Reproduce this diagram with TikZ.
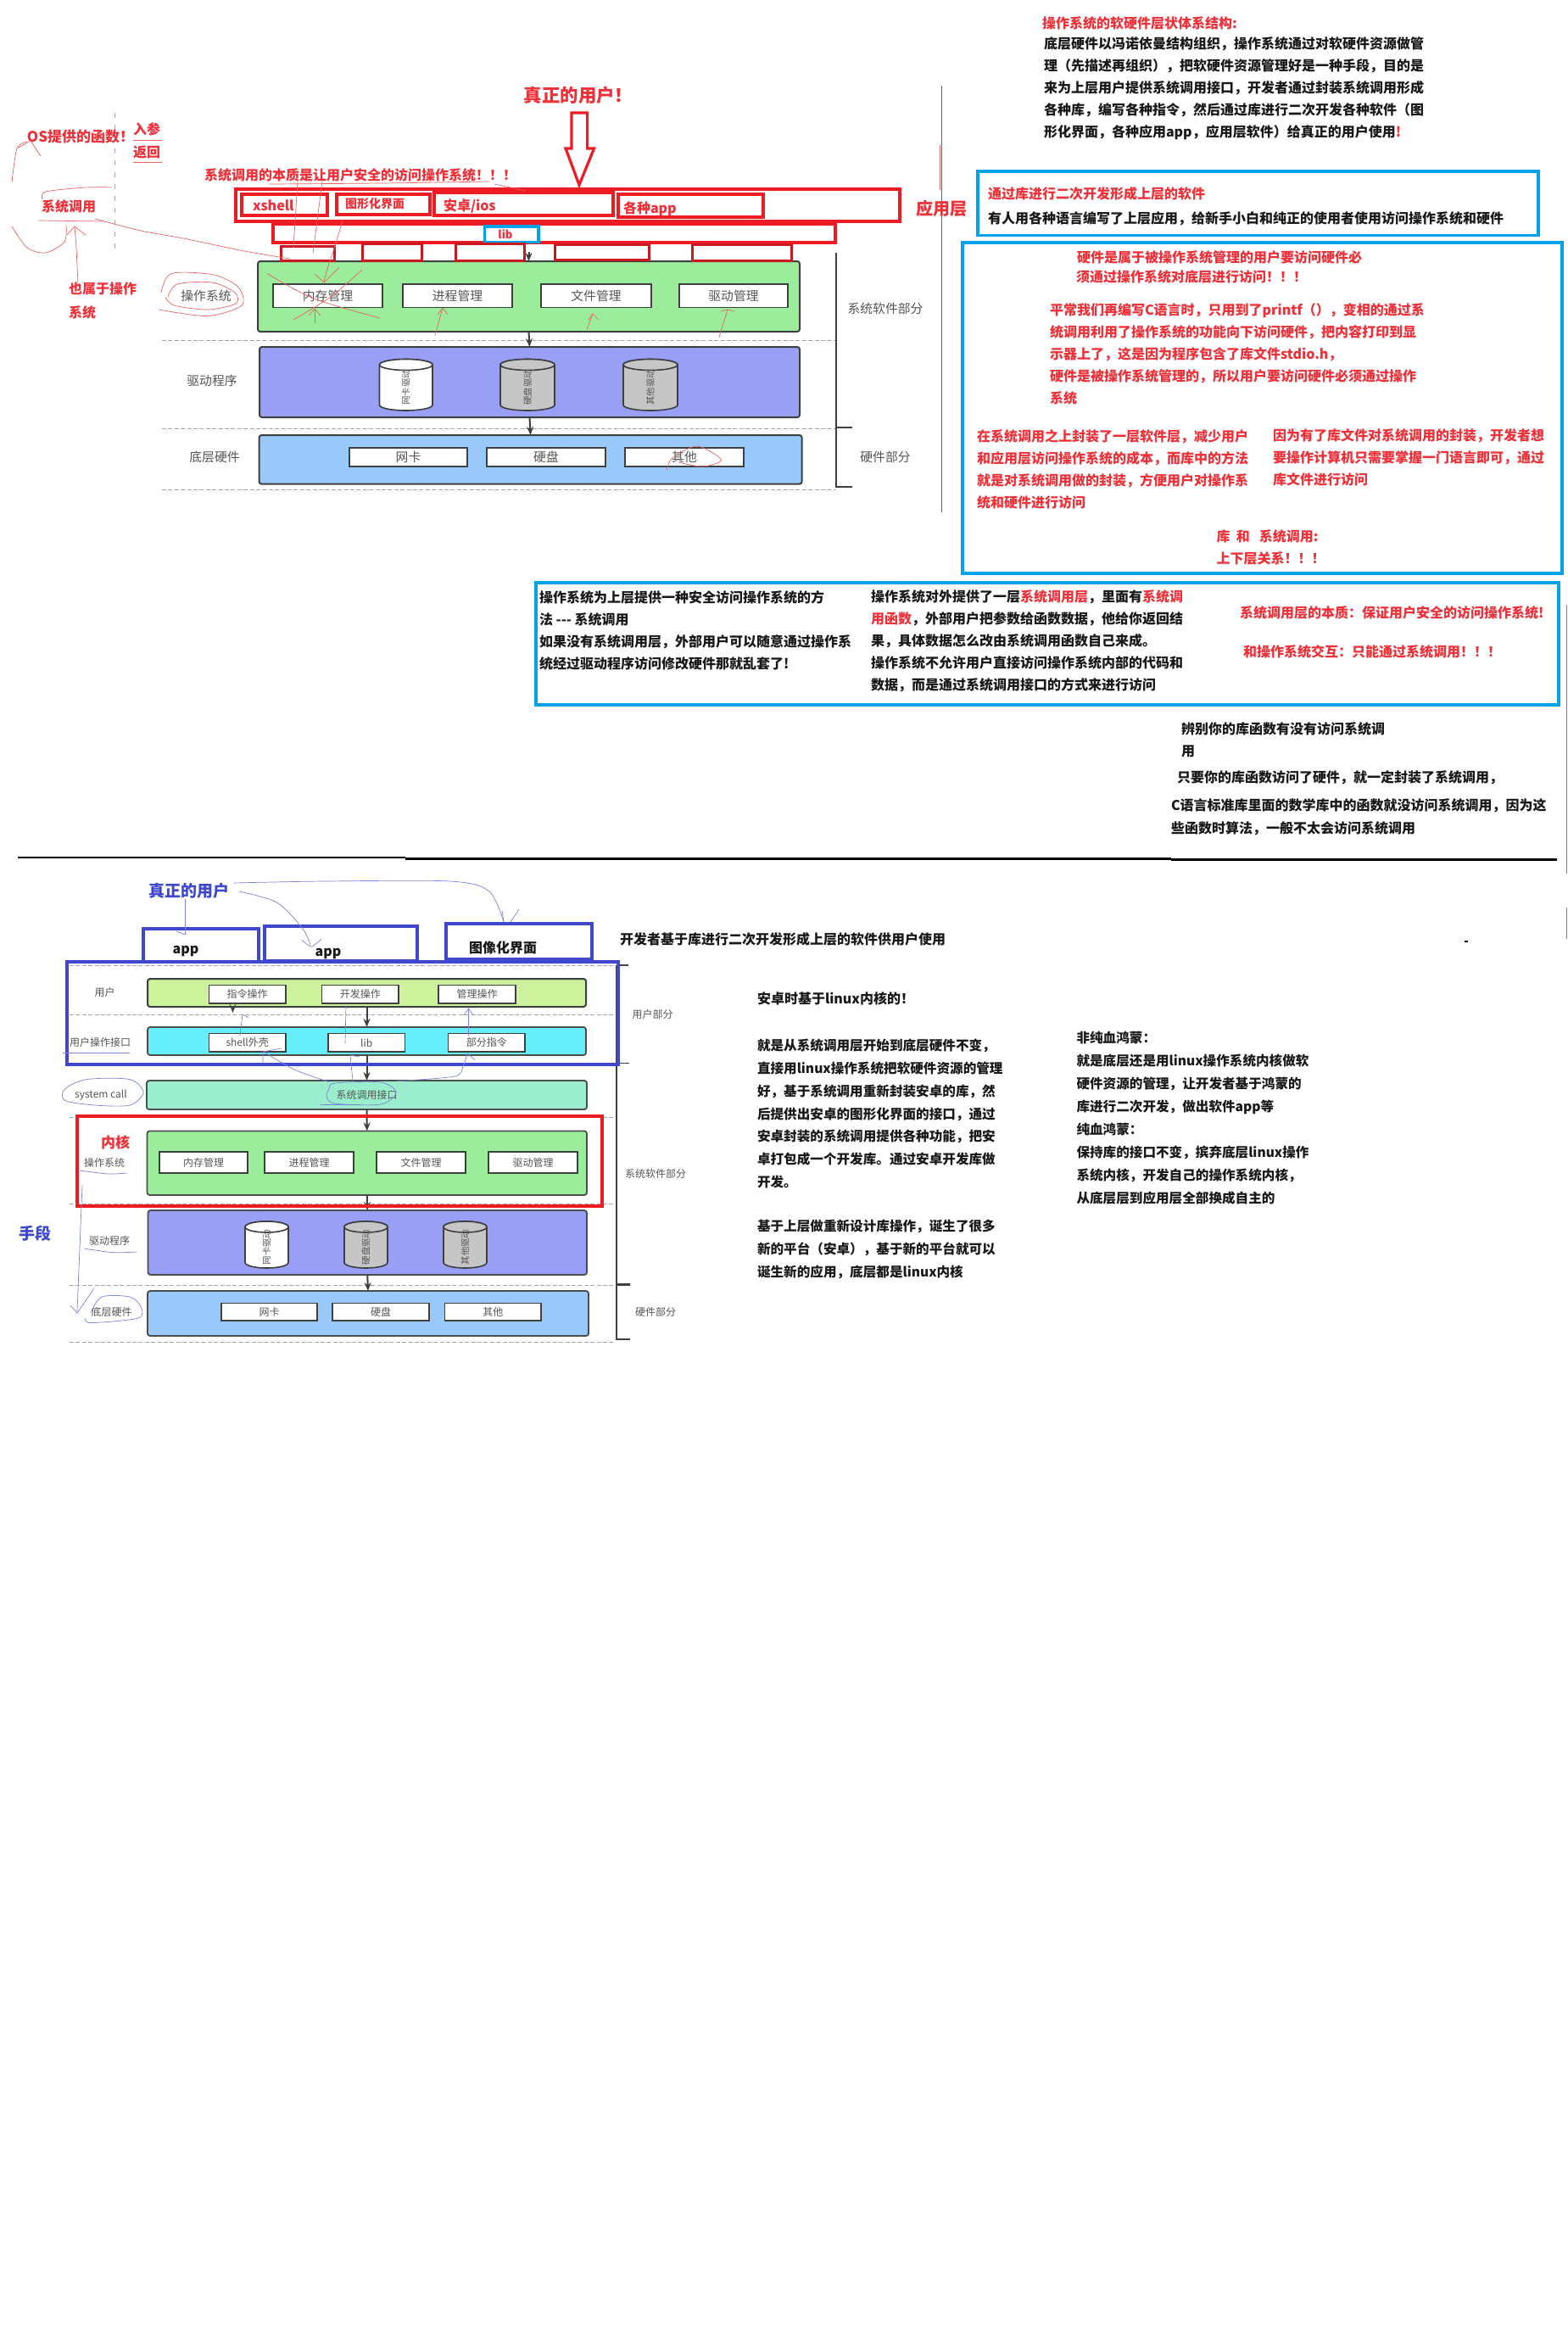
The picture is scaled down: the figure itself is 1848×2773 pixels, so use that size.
\documentclass[tikz,border=0pt]{standalone}
\usepackage{fontspec}
\setmainfont{Noto Sans CJK SC}
\usetikzlibrary{arrows.meta}
\definecolor{rd}{RGB}{237,28,36}
\definecolor{rdt}{RGB}{240,48,56}
\definecolor{bl}{RGB}{0,162,232}
\definecolor{vb}{RGB}{63,72,204}
\definecolor{gn}{RGB}{155,236,155}
\definecolor{vi}{RGB}{153,159,245}
\definecolor{lb}{RGB}{153,201,250}
\definecolor{lg}{RGB}{205,242,155}
\definecolor{cy}{RGB}{102,238,250}
\definecolor{mt}{RGB}{155,238,205}
\definecolor{dk}{RGB}{60,64,64}
\definecolor{gy}{RGB}{85,85,85}
\definecolor{hr}{RGB}{232,100,100}
\definecolor{hb}{RGB}{125,130,215}
\newcommand\bx[7]{\node[#6,inner sep=0pt,outer sep=0pt,minimum width={(#4-#2)*0.5pt},minimum height={(#5-#3)*0.5pt}] (#1) at ({(#2+#4)/2},{(#3+#5)/2}) {#7};}
\newcommand\tx[5]{\node[txt,#4,anchor=west] (#1) at (#2,#3) {#5};}
\newcommand\tc[5]{\node[txt,#4] (#1) at (#2,#3) {#5};}
% cylinder: name, x1, y1, x2, y2, fill, text
\newcommand\cyl[7]{%
 \pgfmathsetmacro\cylrx{(#4-#2)/4}%
 \pgfmathsetmacro\cylcx{(#2+#4)/2}%
 \pgfmathsetmacro\cylcy{(#3+#5)/2}%
 \pgfmathsetmacro\cylt{#3+6.5}%
 \pgfmathsetmacro\cylb{#5-6.5}%
 \draw[cylb,fill=#6] (#2,\cylt) -- (#2,\cylb) arc[x radius=\cylrx pt,y radius=3.25pt,start angle=180,end angle=360] -- (#4,\cylt) arc[x radius=\cylrx pt,y radius=3.25pt,start angle=0,end angle=180] -- cycle;
 \draw[cylb,fill=#6] (\cylcx,\cylt) ellipse [x radius=\cylrx pt,y radius=3.25pt];
 \node[txt,rotate=90,font=\fontsize{5.2}{7}\selectfont,text=gy] (#1) at (\cylcx,\cylcy+3) {#7};}
\tikzset{
 txt/.style={inner sep=0pt,outer sep=0pt,align=left},
 body/.style={font=\fontsize{8}{13}\selectfont\bfseries,text=black!90},
 redt/.style={font=\fontsize{8}{13}\selectfont\bfseries,text=rdt},
 big/.style={font=\fontsize{10}{12}\selectfont\bfseries,text=rdt},
 lab/.style={font=\fontsize{7.4}{9}\selectfont,text=gy},
 labs/.style={font=\fontsize{6}{8}\selectfont,text=gy},
 rbox/.style={draw=rd,line width=2pt},
 rsm/.style={draw=rd!85!black,line width=1.5pt},
 bbox/.style={draw=bl,line width=1.7pt},
 vbox/.style={draw=vb,line width=2pt},
 layer/.style={draw=dk,line width=1pt,rounded corners=1.5pt},
 layers/.style={draw=gray!60!black,line width=.9pt,rounded corners=1.5pt},
 wbox/.style={draw=dk,fill=white,line width=.8pt,font=\fontsize{7.4}{9}\selectfont,text=gy},
 wsm/.style={draw=dk,fill=white,line width=.8pt,font=\fontsize{6}{8}\selectfont,text=gy},
 cylb/.style={draw=dk,line width=.8pt},
 conn/.style={draw=dk,line width=1pt,-{Stealth[length=5pt,width=4pt]}},
 dsh/.style={draw=gray!70,line width=.5pt,dash pattern=on 2.5pt off 1.2pt},
 brk/.style={draw=dk,line width=.8pt},
 hand/.style={draw=hr,line width=.35pt},
 handb/.style={draw=hb,line width=.35pt},
}
\begin{document}
\begin{tikzpicture}[x=0.5pt,y=-0.5pt]
\useasboundingbox (0,0) rectangle (1848,2773);
\fill[white] (0,0) rectangle (1848,2773);

%% ---------- upper diagram: dashed rules, bracket
\coordinate (d1a) at (191,401); \coordinate (d1b) at (986,401);
\coordinate (d2a) at (191,505); \coordinate (d2b) at (986,505);
\coordinate (d3a) at (191,577); \coordinate (d3b) at (986,577);
\draw[dsh] (d1a)--(d1b); \draw[dsh] (d2a)--(d2b); \draw[dsh] (d3a)--(d3b);
\coordinate (ba) at (986,298); \coordinate (bb) at (986,574); \coordinate (bc) at (1005,574);
\coordinate (bd) at (986,504); \coordinate (be) at (1005,504);
\draw[brk] (ba)--(bb)--(bc); \draw[brk,line width=1.2pt] (bd)--(be);
\coordinate (va) at (1110,101); \coordinate (vb2) at (1110,604); \draw[draw=gray!80!black,line width=.4pt] (va)--(vb2);
\coordinate (dd1) at (135.5,133); \coordinate (dd2) at (135.5,299);
\draw[draw=gray!70,line width=.3pt,dash pattern=on 3pt off 4pt] (dd1)--(dd2);

%% layers
\bx{ug}{304}{308}{943}{391}{layer,fill=gn}{}
\bx{uv}{306}{409}{943}{492}{layer,fill=vi}{}
\bx{ub}{305.6}{513}{945.6}{570.7}{layer,fill=lb}{}
\bx{um}{322}{335}{451}{362.5}{wbox}{内存管理}
\bx{up}{475}{335}{604}{362.5}{wbox}{进程管理}
\bx{uf}{638}{335}{768}{362.5}{wbox}{文件管理}
\bx{ud}{801}{335}{929}{362.5}{wbox}{驱动管理}
\cyl{uc1}{447.5}{423.5}{510}{484}{white}{网卡驱动}
\cyl{uc2}{590}{423.5}{654}{484}{gray!45}{硬盘驱动}
\cyl{uc3}{735}{423.5}{799}{484}{gray!45}{其他驱动}
\bx{un}{412}{528}{551}{550}{wbox}{网卡}
\bx{uh}{574}{528}{714}{550}{wbox}{硬盘}
\bx{uo}{737}{528}{877}{550}{wbox}{其他}
\coordinate (la) at (623.5,297);
\draw[conn] (la)--(ug.north);
\draw[conn] (ug.south)--(uv.north);
\draw[conn] (uv.south)--(ub.north);
\tc{l1}{243}{349}{lab}{操作系统}
\tc{l2}{250}{449}{lab}{驱动程序}
\tc{l3}{253}{539}{lab}{底层硬件}
\tc{l4}{1044}{363.6}{lab}{系统软件部分}
\tc{l5}{1044}{539}{lab}{硬件部分}

%% red overlay boxes
\bx{app}{277.5}{222.5}{1061}{261}{rbox}{}
\bx{bx1}{285}{229}{386}{254}{rbox}{}
\bx{bx2}{397}{228.6}{507}{253}{rbox}{}
\bx{bx3}{512}{227}{723}{254}{rbox}{}
\bx{bx4}{729}{229}{899.5}{256}{rbox}{}
\bx{libbar}{322}{263.6}{985}{285.7}{rbox}{}
\bx{libb}{571.5}{267}{635}{285.7}{bbox}{}
\tc{tlib}{596}{276}{font=\fontsize{6.5}{8}\selectfont\bfseries,text=rdt}{lib}
\bx{s1}{331.5}{290.7}{394}{307}{rsm}{}
\bx{s2}{427}{287.5}{497}{307}{rsm}{}
\bx{s3}{537}{287.5}{618}{307.5}{rsm}{}
\bx{s4}{654}{288}{765}{306}{rsm}{}
\bx{s5}{816}{288.6}{933}{307.5}{rsm}{}
\tx{t1}{298}{242}{redt}{xshell}
\tx{t2}{407}{240}{redt,font=\fontsize{7}{9}\selectfont\bfseries}{图形化界面}
\tx{t3}{523}{243.5}{redt}{安卓/ios}
\tx{t4}{735}{246}{redt}{各种app}
\tc{t5}{1110}{246}{big}{应用层}
\tc{t6}{682}{112.5}{big,font=\fontsize{10.7}{13}\selectfont\bfseries}{真正的用户！}
\draw[rd,line width=1.6pt,line join=miter] (674,133)--(692.6,133)--(692.6,175)--(700.5,175)--(683,218)--(667,175)--(674,175)--cycle;
\tx{t7}{241}{206}{redt}{系统调用的本质是让用户安全的访问操作系统！！！}
\tx{t8}{32}{161}{redt,font=\fontsize{8.5}{13}\selectfont\bfseries}{OS提供的函数！}
\tx{t9}{157}{152}{redt}{入参}
\tx{t10}{157}{180}{redt}{返回}
\tc{t11}{81}{243}{redt}{系统调用}
\tx{t12}{81}{340}{redt}{也属于操作}
\tx{t13}{81}{368}{redt}{系统}

%% hand drawing, upper diagram
\draw[hand] (157,165)--(191,165);
\draw[hand] (157,191)--(191,191);
\draw[hand] plot[smooth] coordinates {(14,215) (20,175) (32,167)};
\draw[hand] (20,175)--(36,166)--(48,184);
\draw[hand] plot[smooth] coordinates {(14,267) (32,292) (54,298) (76,285) (78,265)};
\draw[hand] plot[smooth] coordinates {(50,235) (54,226) (101,221) (132,221)};
\draw[hand] (45,260)--(122,261);
\draw[hand] plot[smooth] coordinates {(112,258) (166,272) (216,281) (288,296) (342,305)};
\draw[hand] plot[smooth] coordinates {(92,335) (90,292) (88,267)};
\draw[hand] (79,277)--(88,267)--(101,277);
\draw[hand] plot[smooth] coordinates {(317,217) (450,216) (577,214)};
\draw[hand] (583,217)--(620,225);
\draw[hand] (351,213.5)--(346,292);
\draw[hand] (380,213.5)--(369,298.6);
\draw[hand] plot[smooth] coordinates {(404,260) (395,290) (386,317) (382,333)};
\draw[hand] (371,323)--(382,333)--(400,315);
\draw[hand] plot[smooth] coordinates {(315,322.5) (370,352) (448,375)};
\draw[hand] plot[smooth] coordinates {(427,318) (390,350) (346,377)};
\draw[hand] (371,381)--(371,364); \draw[hand] (364,372)--(371,364)--(378,372);
\draw[hand] (513,395)--(522,363); \draw[hand] (516,371)--(522,363)--(528,371);
\draw[hand] (692,388.6)--(699,370); \draw[hand] (694,377)--(699,370)--(706,377);
\draw[hand] (848,397.5)--(858,365); \draw[hand] (850,367)--(858,365)--(866,367);
\draw[hand] plot[smooth] coordinates {(190,345) (202,322.5) (252,324) (281,338.6) (285,360) (245,372.5) (187,365)};
\draw[hand] plot[smooth] coordinates {(198,350) (209,335) (250,333) (277,345) (278,358) (245,365) (205,360) (195,350)};
\draw[hand] plot[smooth] coordinates {(786,554.6) (793,540) (822,526) (850.5,542) (829,550) (800,545)};
\draw[hand] (1108,171)--(1108,224);

%% upper text column
\tx{r1}{1229}{27}{redt}{操作系统的软硬件层状体系结构:}
\tx{r2}{1231}{104.5}{body}{底层硬件以冯诺依曼结构组织，操作系统通过对软硬件资源做管\\理（先描述再组织），把软硬件资源管理好是一种手段，目的是\\来为上层用户提供系统调用接口，开发者通过封装系统调用形成\\各种库，编写各种指令，然后通过库进行二次开发各种软件（图\\形化界面，各种应用app，应用层软件）给真正的用户使用\textcolor{rdt}{!}}
\bx{b1}{1153}{202}{1814}{277.5}{bbox}{}
\tx{r3}{1165}{228.5}{redt}{通过库进行二次开发形成上层的软件}
\tx{r4}{1165}{258}{body}{有人用各种语言编写了上层应用，给新手小白和纯正的使用者使用访问操作系统和硬件}
\bx{b2}{1135}{286}{1842}{676}{bbox}{}
\tx{r5}{1270}{303}{redt}{硬件是属于被操作系统管理的用户要访问硬件必}
\tx{r6}{1269}{326.5}{redt}{须通过操作系统对底层进行访问！！！}
\tx{r7}{1238}{417.5}{redt}{平常我们再编写C语言时，只用到了printf（），变相的通过系\\统调用利用了操作系统的功能向下访问硬件，把内容打印到显\\示器上了，这是因为程序包含了库文件stdio.h，\\硬件是被操作系统管理的，所以用户要访问硬件必须通过操作\\系统}
\tx{r8}{1152}{553.5}{redt}{在系统调用之上封装了一层软件层，减少用户\\和应用层访问操作系统的成本，而库中的方法\\就是对系统调用做的封装，方便用户对操作系\\统和硬件进行访问}
\tx{r9}{1501}{539}{redt}{因为有了库文件对系统调用的封装，开发者想\\要操作计算机只需要掌握一门语言即可，通过\\库文件进行访问}
\tx{r10}{1434.5}{632}{redt}{库\ \ 和\ \ \ 系统调用:}
\tx{r11}{1434.5}{658}{redt}{上下层关系！！！}
\bx{b3}{632}{687}{1838}{831}{bbox}{}
\tx{c1}{636}{743.5}{body}{操作系统为上层提供一种安全访问操作系统的方\\法 -{}-{}- 系统调用\\如果没有系统调用层，外部用户可以随意通过操作系\\统经过驱动程序访问修改硬件那就乱套了!}
\tx{c2}{1027}{756}{body}{操作系统对外提供了一层\textcolor{rdt}{系统调用层}，里面有\textcolor{rdt}{系统调}\\\textcolor{rdt}{用函数}，外部用户把参数给函数数据，他给你返回结\\果，具体数据怎么改由系统调用函数自己来成。\\操作系统不允许用户直接访问操作系统内部的代码和\\数据，而是通过系统调用接口的方式来进行访问}
\tx{c3}{1462}{722}{redt}{系统调用层的本质：保证用户安全的访问操作系统!}
\tx{c4}{1466}{768}{redt}{和操作系统交互：只能通过系统调用！！！}
\tx{e1}{1393}{859}{body}{辨别你的库函数有没有访问系统调}
\tx{e2}{1393}{886}{body}{用}
\tx{e3}{1388}{917}{body}{只要你的库函数访问了硬件，就一定封装了系统调用，}
\tx{e4}{1381}{950}{body}{C语言标准库里面的数学库中的函数就没访问系统调用，因为这}
\tx{e5}{1381}{977}{body}{些函数时算法，一般不太会访问系统调用}

%% separators
\coordinate (k1) at (21,1011); \coordinate (k2) at (478,1011);
\coordinate (k3) at (478,1012.5); \coordinate (k4) at (1381,1012.5);
\coordinate (k5) at (1381,1013.5); \coordinate (k6) at (1836,1013.5);
\draw[black,line width=1.3pt] (k1)--(k2); \draw[black,line width=1.3pt] (k3)--(k4); \draw[black,line width=1.3pt] (k5)--(k6);

%% ---------- lower diagram
\foreach \yy/\nm in {1138/a,1196/b,1254/c,1317/d,1419/e,1515/f,1582/g}{
 \coordinate (q\nm1) at (82,\yy); \coordinate (q\nm2) at (724,\yy);
 \draw[dsh] (q\nm1)--(q\nm2);
}
\coordinate (fa) at (727,1138); \coordinate (fb) at (727,1579); \coordinate (fc) at (743,1579);
\coordinate (fd) at (741,1138); \coordinate (fe) at (727,1253.5); \coordinate (ff) at (742,1253.5);
\coordinate (fg) at (727,1514.5); \coordinate (fh) at (743,1514.5);
\draw[brk] (fa)--(fb)--(fc); \draw[brk] (fa)--(fd); \draw[brk] (fe)--(ff); \draw[brk,line width=1.2pt] (fg)--(fh);

\bx{a1}{169}{1094.6}{304.6}{1134}{vbox}{}
\bx{a2}{312}{1092}{492}{1133}{vbox}{}
\bx{a3}{525.5}{1089}{697.5}{1131}{vbox}{}
\tc{ta1}{219}{1121}{body}{app}
\tc{ta2}{387}{1124}{body}{app}
\tc{ta3}{593}{1117.6}{body}{图像化界面}
\tc{ta4}{223}{1050.6}{font=\fontsize{9.5}{11}\selectfont\bfseries,text=vb}{真正的用户}
\tx{ta5}{731}{1107}{body}{开发者基于库进行二次开发形成上层的软件供用户使用}

\bx{g1}{174}{1154}{691}{1187}{layer,fill=lg}{}
\bx{g2}{174}{1211}{691}{1244}{layers,fill=cy}{}
\bx{g3}{173}{1274}{692}{1308}{layers,fill=mt,font=\fontsize{6}{8}\selectfont,text=gy}{系统调用接口}
\bx{g4}{173.5}{1333.4}{692}{1409}{layers,fill=gn}{}
\bx{g5}{174.5}{1427}{692}{1503}{layers,fill=vi}{}
\bx{g6}{174}{1522}{694}{1575}{layers,fill=lb}{}
\draw[conn] (g1.south)--(g2.north);
\draw[conn] (g2.south)--(g3.north);
\draw[conn] (g3.south)--(g4.north);
\draw[conn] (g4.south)--(g5.north);
\draw[conn] (g5.south)--(g6.north);
\coordinate (gs) at (274.5,1187); \coordinate (gt) at (274.5,1194);
\draw[conn] (gs)--(gt);
\bx{w1}{246.4}{1161.6}{337}{1183}{wsm}{指令操作}
\bx{w2}{379.6}{1161.6}{470}{1183}{wsm}{开发操作}
\bx{w3}{517}{1161.6}{608}{1183}{wsm}{管理操作}
\bx{w4}{246.4}{1218.6}{337}{1240}{wsm}{shell外壳}
\bx{w5}{387}{1218.6}{477.6}{1240}{wsm}{lib}
\bx{w6}{528.6}{1218.6}{619}{1240}{wsm}{部分指令}
\bx{w7}{188}{1358}{292}{1383}{wsm}{内存管理}
\bx{w8}{312}{1358}{417}{1383}{wsm}{进程管理}
\bx{w9}{444}{1358}{549}{1383}{wsm}{文件管理}
\bx{w10}{576}{1358}{681}{1383}{wsm}{驱动管理}
\cyl{c11}{289}{1440}{340}{1495}{white}{网卡驱动}
\cyl{c12}{406}{1440}{457}{1495}{gray!45}{硬盘驱动}
\cyl{c13}{523}{1440}{574}{1495}{gray!45}{其他驱动}
\bx{w11}{261}{1536.6}{374}{1557}{wsm}{网卡}
\bx{w12}{392}{1536.6}{506}{1557}{wsm}{硬盘}
\bx{w13}{524.5}{1536.6}{638}{1557}{wsm}{其他}
\bx{big1}{78.6}{1134}{728.6}{1254.6}{vbox}{}
\bx{big2}{91}{1316}{710}{1422}{rbox}{}
\tc{q1}{123.5}{1170}{labs}{用户}
\tc{q2}{118}{1229}{labs}{用户操作接口}
\tc{q3}{119}{1291}{labs}{system call}
\tc{q4}{123}{1370.5}{labs}{操作系统}
\tc{q5}{129}{1463}{labs}{驱动程序}
\tc{q6}{131.6}{1546.6}{labs}{底层硬件}
\tc{q7}{769.5}{1196}{labs}{用户部分}
\tc{q8}{773}{1384}{labs}{系统软件部分}
\tc{q9}{773}{1546.6}{labs}{硬件部分}
\tc{q10}{136}{1346.5}{font=\fontsize{8.5}{10}\selectfont\bfseries,text=rdt}{内核}
\tc{q11}{42}{1454}{font=\fontsize{9.5}{11}\selectfont\bfseries,text=vb}{手段}

%% hand drawing, lower diagram
\draw[handb] (218,1060)--(218,1102); \draw[handb] (208,1098)--(218,1102);
\draw[handb] plot[smooth] coordinates {(282,1051) (326.5,1064) (357,1095) (366,1114)};
\draw[handb] plot[smooth] coordinates {(356,1108) (367,1116) (379,1107)};
\draw[handb] plot[smooth] coordinates {(275.5,1041) (383,1039) (530.6,1039) (576.5,1050.6) (594,1087)};
\draw[handb] (592,1073.6)--(594,1087);
\draw[handb] (612,1072)--(602,1087);
\draw[handb] plot[smooth cycle] coordinates {(76.5,1284) (102,1272.6) (153,1272.6) (169,1288) (153,1303) (112,1303) (76.5,1297.5)};
\draw[handb] plot[smooth cycle] coordinates {(388,1284) (395,1277) (449,1276) (467,1288) (449,1302) (395,1301) (385,1292)};
\draw[handb] (377.5,1302)--(423.5,1302);
\draw[handb] plot[smooth] coordinates {(388,1275.6) (347,1261) (311,1240)};
\draw[handb] (310,1253.5)--(310,1240)--(332,1236);
\draw[handb] (416,1274.5)--(413,1244)--(424,1246);
\draw[handb] plot[smooth] coordinates {(469,1274.5) (536,1269) (546,1257) (551,1242)};
\draw[handb] (551,1242)--(560,1249.6);
\draw[handb] (283,1221)--(286,1196)--(293,1200);
\draw[handb] (407,1230.5)--(408,1185);
\draw[handb] (552.5,1221)--(552.5,1189); \draw[handb] (547,1197)--(552.5,1189)--(558,1197);
\draw[handb] (74,1241)--(153,1241);
\draw[handb] plot[smooth] coordinates {(94,1380) (127.5,1384) (149.5,1383)};
\draw[handb] plot[smooth] coordinates {(99.5,1472) (132.6,1476.6) (161,1476)};
\draw[handb] plot[smooth] coordinates {(97,1397) (94,1471.6) (91,1546)};
\draw[handb] (83,1539)--(91,1548)--(110.7,1519.4);
\draw[handb] plot[smooth] coordinates {(107,1548) (120,1529) (153,1529) (166,1540.5) (163,1554) (107,1559.6) (101,1554)};

%% lower text
\tx{z1}{893}{1177}{body}{安卓时基于linux内核的！}
\tx{z2}{893}{1313}{body,font=\fontsize{7.8}{13.35}\selectfont\bfseries}{就是从系统调用层开始到底层硬件不变，\\直接用linux操作系统把软硬件资源的管理\\好，基于系统调用重新封装安卓的库，然\\后提供出安卓的图形化界面的接口，通过\\安卓封装的系统调用提供各种功能，把安\\卓打包成一个开发库。通过安卓开发库做\\开发。}
\tx{z3}{893}{1473}{body,font=\fontsize{7.8}{13.35}\selectfont\bfseries}{基于上层做重新设计库操作，诞生了很多\\新的平台（安卓），基于新的平台就可以\\诞生新的应用，底层都是linux内核}
\tx{z4}{1269.5}{1318.5}{body,font=\fontsize{7.8}{13.5}\selectfont\bfseries}{非纯血鸿蒙：\\就是底层还是用linux操作系统内核做软\\硬件资源的管理，让开发者基于鸿蒙的\\库进行二次开发，做出软件app等\\纯血鸿蒙：\\保持库的接口不变，摈弃底层linux操作\\系统内核，开发自己的操作系统内核，\\从底层层到应用层全部换成自主的}
\coordinate (mk1) at (1727,1110); \coordinate (mk2) at (1731,1110);
\draw[black,line width=1pt] (mk1)--(mk2);
\coordinate (m1) at (1847,1070); \coordinate (m2) at (1847,1107); \draw[gray,line width=.5pt] (m1)--(m2);
\coordinate (m3) at (1847,713); \coordinate (m4) at (1847,1030); \draw[gray,line width=.5pt] (m3)--(m4);
\end{tikzpicture}
\end{document}
